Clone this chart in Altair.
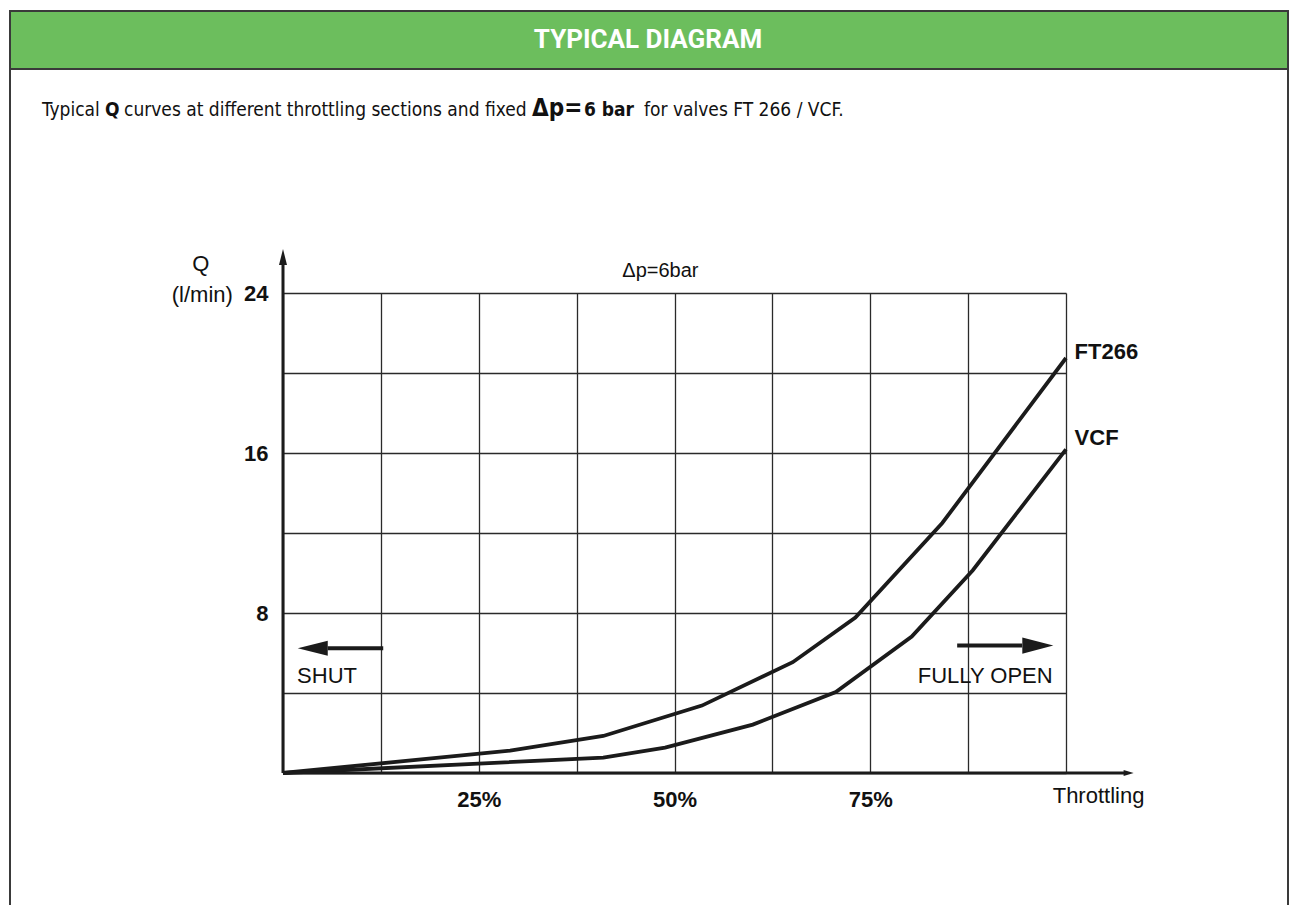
import altair as alt
import pandas as pd

# ---- data ----
ft266_x = [0, 29.0, 40.9, 53.5, 65.1, 73.1, 84.2, 100]
ft266_q = [0, 1.12, 1.85, 3.37, 5.54, 7.77, 12.5, 20.75]
vcf_x = [0, 40.9, 48.8, 60.0, 70.6, 80.3, 88.1, 100]
vcf_q = [0, 0.77, 1.27, 2.42, 4.05, 6.82, 10.14, 16.18]

x_ticks = [0, 12.5, 25, 37.5, 50, 62.5, 75, 87.5, 100]
y_ticks = [0, 4, 8, 12, 16, 20, 24]

series_names = ["FT266", "VCF"]
series_label_x = [101.1, 101.1]
series_label_y = [21.05, 16.75]

ann_text = ["Δp=6bar", "SHUT", "FULLY OPEN", "Throttling", "Q", "(l/min)"]
ann_x = [48.2, 1.8, 98.3, 98.3, -10.5, -6.4]
ann_y = [25.1, 4.87, 4.85, -1.15, 25.45, 23.9]
ann_align = ["center", "left", "right", "left", "center", "right"]
ann_size = [20, 22, 22, 22, 22, 22]

arrow_x1 = [5.7, 86.1]
arrow_x2 = [12.8, 94.4]
arrow_y = [6.24, 6.37]
head_left_x, head_left_y = [3.8], [6.24]
head_right_x, head_right_y = [96.4], [6.37]

NARROW = "Liberation Sans Narrow, DejaVu Sans Condensed, Roboto Condensed, Arial Narrow, sans-serif"
SANS = "Liberation Sans, Arial, sans-serif"
INK = "#1b1b1b"

curves = pd.DataFrame(
    {
        "x": ft266_x + vcf_x,
        "y": ft266_q + vcf_q,
        "series": ["FT266"] * len(ft266_x) + ["VCF"] * len(vcf_x),
    }
)
labels = pd.DataFrame({"x": series_label_x, "y": series_label_y, "t": series_names})
ann = pd.DataFrame({"x": ann_x, "y": ann_y, "t": ann_text, "a": ann_align, "s": ann_size})
arrows = pd.DataFrame({"x": arrow_x1, "x2": arrow_x2, "y": arrow_y})
one = pd.DataFrame({"k": [0]})

xscale = alt.Scale(domain=[0, 100], nice=False, zero=False)
yscale = alt.Scale(domain=[0, 24], nice=False, zero=False)

x_axis = alt.Axis(
    values=x_ticks, grid=True, gridColor="#2a2a2a", gridWidth=1.3, gridOpacity=1,
    domain=False, ticks=False, title=None,
    labelExpr="(datum.value==25||datum.value==50||datum.value==75) ? datum.value + '%' : ''",
    labelFont=SANS, labelFontSize=22, labelFontWeight="bold", labelColor="#111",
    labelPadding=16, labelFlush=False,
)
y_axis = alt.Axis(
    values=y_ticks, grid=True, gridColor="#2a2a2a", gridWidth=1.3, gridOpacity=1,
    domain=False, ticks=False, title=None,
    labelExpr="(datum.value==8||datum.value==16||datum.value==24) ? datum.label : ''",
    labelFont=SANS, labelFontSize=22, labelFontWeight="bold", labelColor="#111",
    labelPadding=15,
)

lines = alt.Chart(curves).mark_line(strokeWidth=3.8, color=INK).encode(
    x=alt.X("x:Q", scale=xscale, axis=x_axis, title=None),
    y=alt.Y("y:Q", scale=yscale, axis=y_axis, title=None),
    detail="series:N",
)

# axis lines with arrow heads
yaxis_line = alt.Chart(one).mark_rule(strokeWidth=3, color=INK).encode(
    x=alt.datum(0), y=alt.datum(0), y2=alt.datum(25.6)
)
xaxis_line = alt.Chart(one).mark_rule(strokeWidth=3, color=INK).encode(
    y=alt.datum(0), x=alt.datum(0), x2=alt.datum(107.6)
)
yhead = alt.Chart(one).mark_point(
    shape="M 0 -1 L 0.5 1 L -0.5 1 Z", filled=True, size=256, color=INK, opacity=1, strokeWidth=0
).encode(x=alt.datum(0), y=alt.datum(25.8))
xhead = alt.Chart(one).mark_point(
    shape="M 1 0 L -1 -0.6 L -1 0.6 Z", filled=True, size=100, color=INK, opacity=1, strokeWidth=0
).encode(x=alt.datum(108.0), y=alt.datum(0))

# SHUT / FULLY OPEN arrows
arrow_lines = alt.Chart(arrows).mark_rule(strokeWidth=4, color=INK).encode(
    x="x:Q", x2="x2:Q", y="y:Q"
)
head_l = alt.Chart(pd.DataFrame({"x": head_left_x, "y": head_left_y})).mark_point(
    shape="M -1 0 L 1 -0.5 L 1 0.5 Z", filled=True, size=900, color=INK, opacity=1, strokeWidth=0
).encode(x="x:Q", y="y:Q")
head_r = alt.Chart(pd.DataFrame({"x": head_right_x, "y": head_right_y})).mark_point(
    shape="M 1 0 L -1 -0.52 L -1 0.52 Z", filled=True, size=961, color=INK, opacity=1, strokeWidth=0
).encode(x="x:Q", y="y:Q")

series_text = alt.Chart(labels).mark_text(
    font=SANS, fontSize=22, fontWeight="bold", align="left", baseline="middle", color="#111"
).encode(x="x:Q", y="y:Q", text="t:N")

ann_layers = []
for i in range(len(ann_text)):
    ann_layers.append(
        alt.Chart(ann.iloc[[i]]).mark_text(
            font=SANS, fontSize=ann_size[i], align=ann_align[i], baseline="middle", color="#111"
        ).encode(x="x:Q", y="y:Q", text="t:N")
    )

# frame, header and subtitle (page furniture, pixel positioned)
border = alt.Chart(one).mark_rect(fillOpacity=0, stroke="#3a3a3a", strokeWidth=2).encode(
    x=alt.value(-273), x2=alt.value(1005), y=alt.value(-282), y2=alt.value(700)
)
header = alt.Chart(one).mark_rect(fill="#6cbe5d", stroke="#3a3a3a", strokeWidth=2).encode(
    x=alt.value(-273), x2=alt.value(1005), y=alt.value(-282), y2=alt.value(-224)
)
title = alt.Chart(one).mark_text(
    text="TYPICAL DIAGRAM", font="Roboto, sans-serif", fontSize=26, fontWeight="bold", color="white",
    align="center", baseline="middle",
).encode(x=alt.value(365), y=alt.value(-253))

sub_parts = [
    ("Typical", -241, "normal", 19),
    ("Q", -178, "bold", 19),
    ("curves at different throttling sections and fixed", -159, "normal", 19),
    ("Δp=", 249, "bold", 24),
    ("6 bar", 301, "bold", 19),
    ("for valves FT 266 / VCF.", 361, "normal", 19),
]
sub_layers = [
    alt.Chart(one).mark_text(
        text=t, font=NARROW, fontSize=fs, fontWeight=w, color="#111",
        align="left", baseline="alphabetic",
    ).encode(x=alt.value(px), y=alt.value(-177))
    for (t, px, w, fs) in sub_parts
]

chart = alt.layer(
    lines, border, header, title, *sub_layers,
    yaxis_line, xaxis_line, yhead, xhead,
    arrow_lines, head_l, head_r, series_text, *ann_layers,
).properties(
    width=783, height=480,
    padding={"left": 275, "top": 285, "right": 223, "bottom": 132},
    autosize=alt.AutoSizeParams(type="none"),
    background="white",
).configure_view(strokeWidth=0)

chart.save("out.html", embed_options={"renderer": "svg", "actions": False})
